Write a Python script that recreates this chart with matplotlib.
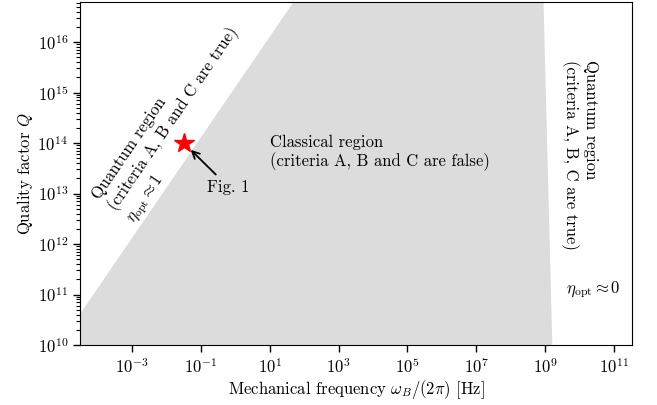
import matplotlib
matplotlib.use("Agg")
import matplotlib.pyplot as plt
import numpy as np
from matplotlib.ticker import LogLocator, NullLocator, FixedLocator

plt.rcParams['font.family'] = 'serif'
plt.rcParams['font.serif'] = ['cmr10']
plt.rcParams['mathtext.fontset'] = 'cm'
plt.rcParams['axes.formatter.use_mathtext'] = True
plt.rcParams['font.size'] = 12

# ---- data ----
x_limits = [3.1e-5, 3.3e11]
y_limits = [1e10, 6.2e16]
# left boundary of classical region (Q ~ omega)
left_omega = [3.1e-5, 49.0]
left_Q = [4.1e10, 6.2e16]
# right boundary of classical region (nearly vertical)
right_omega = [8.9e8, 1.6e9]
right_Q = [6.2e16, 1e10]
star_omega = [0.032]
star_Q = [1e14]
x_ticks = [1e-3, 1e-1, 1e1, 1e3, 1e5, 1e7, 1e9, 1e11]
y_ticks = [1e10, 1e11, 1e12, 1e13, 1e14, 1e15, 1e16]

fig = plt.figure(figsize=(6.57, 4.05), dpi=100)
ax = fig.add_axes([80/657, 60/405, 552/657, 343/405])
ax.set_xscale('log')
ax.set_yscale('log')
ax.set_xlim(x_limits)
ax.set_ylim(y_limits)

poly_x = [x_limits[0]] + left_omega + right_omega + [x_limits[0]]
poly_y = [y_limits[0]] + left_Q + right_Q + [y_limits[0]]
ax.fill(poly_x, poly_y, color='#dcdcdc', lw=0, zorder=0)

ax.plot(star_omega, star_Q, marker='*', color='red', ms=15, ls='none', zorder=5)

ax.annotate('Fig. 1', xy=(star_omega[0], star_Q[0]), xytext=(0.63, 1.35e13),
            ha='center', va='center',
            arrowprops=dict(arrowstyle='->', color='black', lw=1.3,
                            shrinkA=2, shrinkB=7, mutation_scale=13))

ax.text(3.1e-4, 4.7e12,
        "Quantum region\n(criteria A, B and C are true)\n" + r"$\eta_{\rm opt}\approx 1$",
        rotation=55.8, rotation_mode='anchor', ha='left', va='center',
        multialignment='left')

ax.text(10.0, 6.4e13, "Classical region\n(criteria A, B and C are false)",
        ha='left', va='center', multialignment='left')

ax.text(1.0e10, 4.4e15, "Quantum region\n(criteria A, B, C are true)",
        rotation=270, rotation_mode='anchor', ha='left', va='center',
        multialignment='left')

ax.text(2.5e10, 1.23e11, r"$\eta_{\rm opt}\approx 0$", ha='center', va='center')

ax.xaxis.set_major_locator(FixedLocator(x_ticks))
ax.xaxis.set_minor_locator(NullLocator())
ax.yaxis.set_major_locator(FixedLocator(y_ticks))
ax.yaxis.set_minor_locator(LogLocator(base=10, subs=np.arange(2, 10), numticks=20))
ax.tick_params(which='major', length=5, width=1)
ax.tick_params(which='minor', length=3, width=0.8)

ax.set_xlabel(r"Mechanical frequency $\omega_B/(2\pi)$ [Hz]", labelpad=1)
ax.set_ylabel(r"Quality factor $Q$", labelpad=2)

fig.savefig('out.png', dpi=100)
